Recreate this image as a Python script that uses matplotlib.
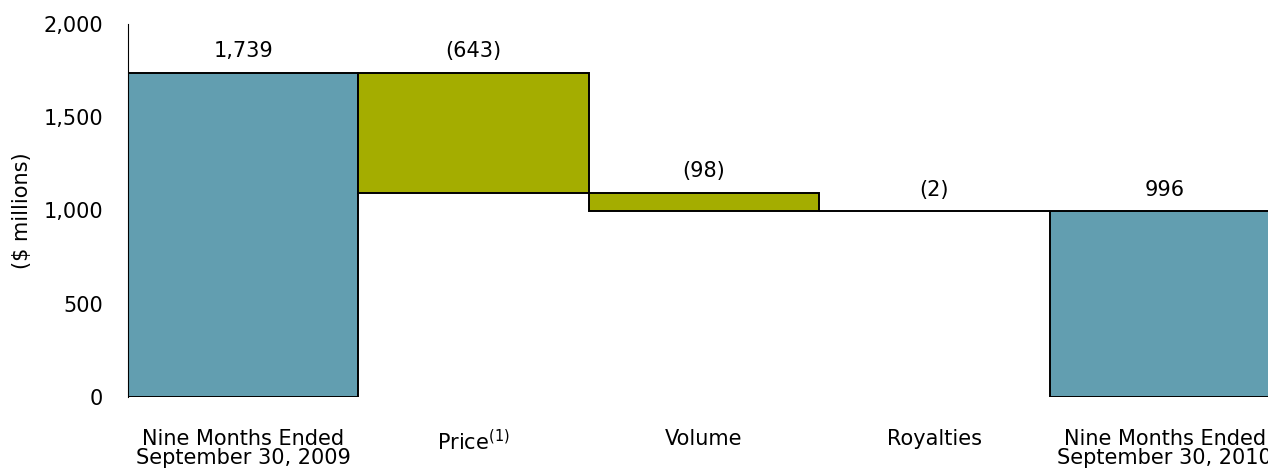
import numpy as np
import matplotlib.pyplot as plt

categories = ["Nine Months Ended\nSeptember 30, 2009", "Price$^{(1)}$", "Volume",
              "Royalties", "Nine Months Ended\nSeptember 30, 2010"]
changes = [1739, -643, -98, -2, 996]
labels = ["1,739", "(643)", "(98)", "(2)", "996"]
is_total = [True, False, False, False, True]

blue = "#629EB0"
olive = "#A4AD00"
fs = 15

fig = plt.figure(figsize=(12.68, 4.72), dpi=100)
ax = fig.add_axes([128/1268, 1 - 397/472, 1152/1268, 373/472])

running = 0
x = np.arange(len(categories))
for i, (chg, tot) in enumerate(zip(changes, is_total)):
    if tot:
        bottom, top = 0, chg
        running = chg
    else:
        top = running
        running = running + chg
        bottom = running
    ax.bar(x[i], top - bottom, bottom=bottom, width=1.0,
           color=blue if tot else olive, edgecolor="black", linewidth=1.4)
    ax.text(x[i], top + 60, labels[i], ha="center", va="bottom", fontsize=fs)

ax.set_xlim(-0.5, len(categories) - 0.5)
ax.set_ylim(0, 2000)
ax.set_yticks([0, 500, 1000, 1500, 2000])
ax.set_yticklabels(["0", "500", "1,000", "1,500", "2,000"])
ax.set_xticks(x)
ax.set_xticklabels(categories, fontsize=fs, linespacing=0.95)
ax.tick_params(axis="both", length=0, labelsize=fs)
ax.tick_params(axis="x", pad=23)
ax.tick_params(axis="y", pad=18)
for s in ["top", "right", "bottom"]:
    ax.spines[s].set_visible(False)
ax.spines["left"].set_linewidth(0.8)
ax.set_ylabel("(\\$ millions)", fontsize=fs, labelpad=8)

fig.savefig("out.png", dpi=100)
